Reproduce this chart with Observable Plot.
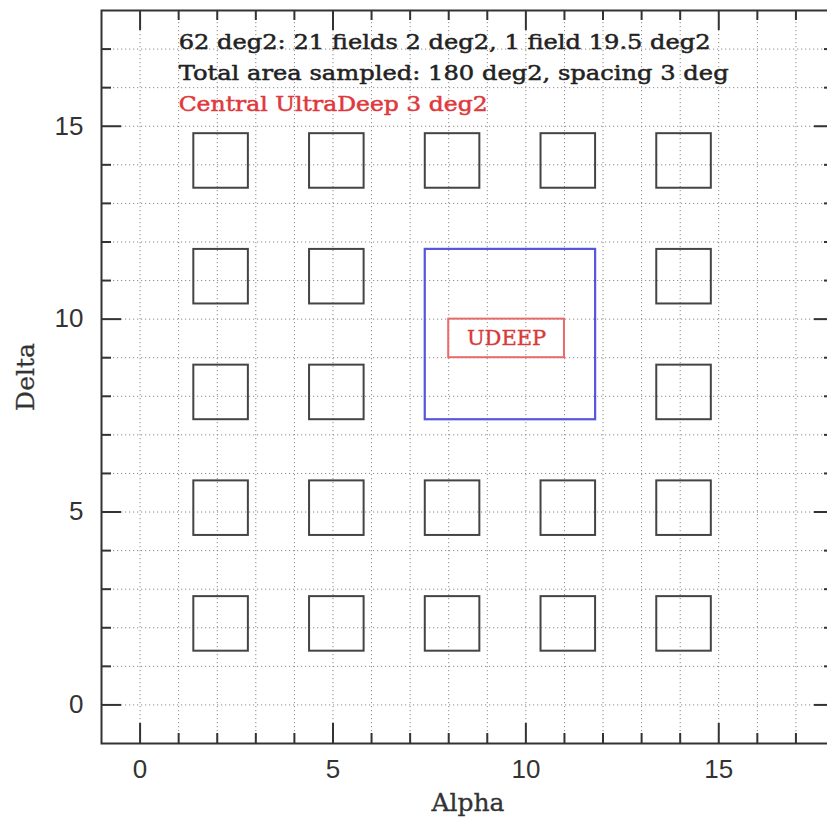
<!DOCTYPE html>
<html><head><meta charset="utf-8">
<script src="https://cdn.jsdelivr.net/npm/d3@7"></script>
<script src="https://cdn.jsdelivr.net/npm/@observablehq/plot@0.6"></script>
<style>html,body{margin:0;padding:0;background:#fff;overflow:hidden;width:827px;height:819px}#chart svg{max-width:none !important;height:819px !important;display:block}</style>
</head><body><div id="chart"></div>
<script>
// 2 deg2 fields (centres, deg)
const fieldX = [2.1,5.1,8.1,11.1,14.1, 2.1,5.1,14.1, 2.1,5.1,14.1, 2.1,5.1,8.1,11.1,14.1, 2.1,5.1,8.1,11.1,14.1];
const fieldY = [14.1,14.1,14.1,14.1,14.1, 11.1,11.1,11.1, 8.1,8.1,8.1, 5.1,5.1,5.1,5.1,5.1, 2.1,2.1,2.1,2.1,2.1];
const fieldArea = 2;
// large 19.5 deg2 field
const bigX = [9.6], bigY = [9.6], bigArea = [19.5];
// Central UltraDeep 3 deg2 box
const udeepX1 = [8], udeepX2 = [11], udeepY1 = [9], udeepY2 = [10];
const udeepLabel = ["UDEEP"];
const notes = [
  "62 deg2: 21 fields 2 deg2, 1 field 19.5 deg2",
  "Total area sampled: 180 deg2, spacing 3 deg",
  "Central UltraDeep 3 deg2"
];
const noteY = [16.99, 16.21, 15.40];
const noteLen = [532, 550, 309];
const majorTicks = [0,5,10,15];
const minorTicks = [1,2,3,4,6,7,8,9,11,12,13,14,16,17];
const gridTicks = [0,1,2,3,4,5,6,7,8,9,10,11,12,13,14,15,16,17];

const fields = fieldX.map((x,i)=>({x, y: fieldY[i], h: Math.sqrt(fieldArea)/2}));
const big = bigX.map((x,i)=>({x, y: bigY[i], h: Math.sqrt(bigArea[i])/2}));
const udeep = udeepX1.map((x1,i)=>({x1, x2: udeepX2[i], y1: udeepY1[i], y2: udeepY2[i], label: udeepLabel[i]}));
const noteData = notes.map((t,i)=>({t, y: noteY[i]}));

const FW = 733; // frame size in px
const ink = "#333";
const serif = "DejaVu Serif";
const sans = "Liberation Sans";

const svg = Plot.plot({
  width: 841, height: 819,
  marginLeft: 101, marginRight: 7, marginTop: 10, marginBottom: 76,
  x: {domain: [-1, 18], label: null},
  y: {domain: [-1, 18], label: null},
  style: {background: "#fff"},
  marks: [
    Plot.gridX(gridTicks, {stroke: "#8a8a8a", strokeOpacity: 1, strokeDasharray: "1.2,2.8", strokeWidth: 1}),
    Plot.gridY(gridTicks, {stroke: "#8a8a8a", strokeOpacity: 1, strokeDasharray: "1.2,2.8", strokeWidth: 1}),
    // ticks (inward, on all four sides)
    Plot.ruleX(majorTicks, {x: d=>d, insetTop: FW-20, stroke: ink, strokeWidth: 2}),
    Plot.ruleX(majorTicks, {x: d=>d, insetBottom: FW-20, stroke: ink, strokeWidth: 2}),
    Plot.ruleX(minorTicks, {x: d=>d, insetTop: FW-10, stroke: ink, strokeWidth: 2}),
    Plot.ruleX(minorTicks, {x: d=>d, insetBottom: FW-10, stroke: ink, strokeWidth: 2}),
    Plot.ruleY(majorTicks, {y: d=>d, insetRight: FW-20, stroke: ink, strokeWidth: 2}),
    Plot.ruleY(majorTicks, {y: d=>d, insetLeft: FW-20, stroke: ink, strokeWidth: 2}),
    Plot.ruleY(minorTicks, {y: d=>d, insetRight: FW-10, stroke: ink, strokeWidth: 2}),
    Plot.ruleY(minorTicks, {y: d=>d, insetLeft: FW-10, stroke: ink, strokeWidth: 2}),
    Plot.frame({stroke: ink, strokeWidth: 2}),
    // tick labels
    Plot.axisX(majorTicks, {anchor: "bottom", tickSize: 0, tickPadding: 16, fontSize: 26, fontFamily: sans, fill: ink, label: null}),
    Plot.axisY(majorTicks, {anchor: "left", tickSize: 0, tickPadding: 18, fontSize: 26, fontFamily: sans, fill: ink, label: null}),
    // axis labels
    Plot.text(["Alpha"], {frameAnchor: "bottom", dy: 67, lineAnchor: "bottom", fontSize: 25, fontFamily: serif, fill: ink, stroke: ink, strokeWidth: 0.3}),
    Plot.text(["Delta"], {frameAnchor: "left", dx: -76, rotate: -90, lineAnchor: "middle", textAnchor: "middle", fontSize: 25, fontFamily: serif, fill: ink, stroke: ink, strokeWidth: 0.3}),
    // fields
    Plot.rect(fields, {x1: d=>d.x-d.h, x2: d=>d.x+d.h, y1: d=>d.y-d.h, y2: d=>d.y+d.h, fill: "none", stroke: "#444", strokeWidth: 2}),
    Plot.rect(big, {x1: d=>d.x-d.h, x2: d=>d.x+d.h, y1: d=>d.y-d.h, y2: d=>d.y+d.h, fill: "none", stroke: "#5656dc", strokeWidth: 2.2}),
    Plot.rect(udeep, {x1: "x1", x2: "x2", y1: "y1", y2: "y2", fill: "none", stroke: "#e86a6a", strokeWidth: 2}),
    Plot.text(udeep, {x: d=>(d.x1+d.x2)/2, y: d=>(d.y1+d.y2)/2, text: "label", fontSize: 21, fontFamily: serif, fill: "#d83a3a", stroke: "#d83a3a", strokeWidth: 0.4, lineAnchor: "middle"}),
    // notes
    Plot.text(noteData, {x: 1, y: "y", text: "t", textAnchor: "start", lineAnchor: "bottom", fontSize: 21, fontFamily: serif,
      fill: (d,i)=> i===2 ? "#e0383c" : "#222", stroke: (d,i)=> i===2 ? "#e0383c" : "#222", strokeWidth: 0.5})
  ]
});
d3.select(svg).selectAll("text").each(function(){
  const k = notes.indexOf(this.textContent);
  if (k >= 0) { this.setAttribute("textLength", noteLen[k]); this.setAttribute("lengthAdjust", "spacingAndGlyphs"); }
});
svg.style.maxWidth = "none";
document.getElementById("chart").appendChild(svg);
</script>
</body></html>
